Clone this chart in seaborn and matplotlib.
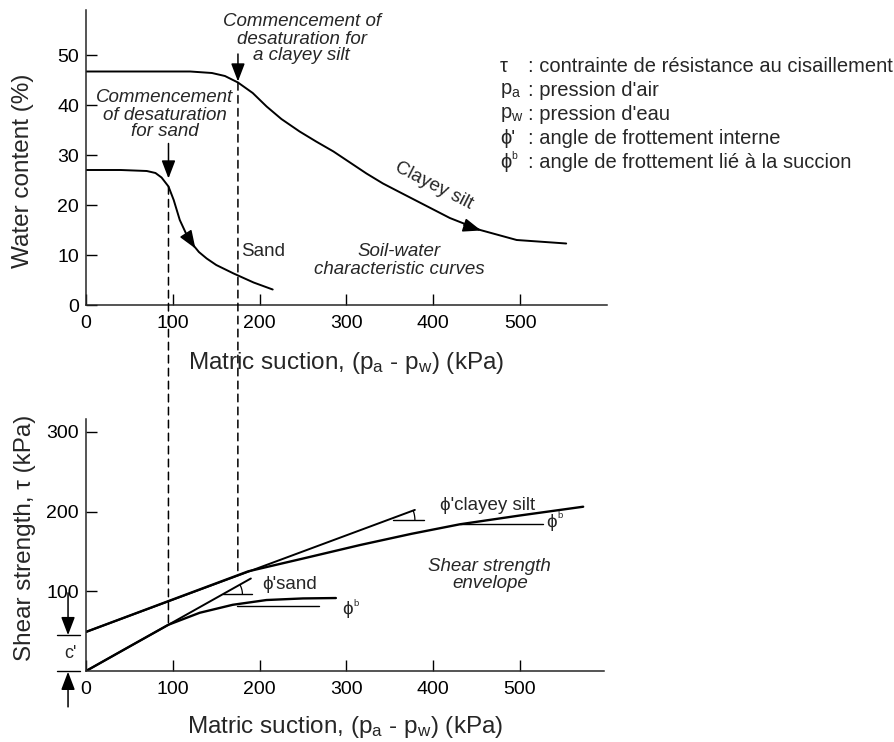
"""
Courbes de rétention (teneur en eau) et enveloppes de résistance au cisaillement
pour un sable et un limon argileux, en fonction de la succion matricielle.
"""
import numpy as np
import matplotlib
matplotlib.use('Agg')
import matplotlib.pyplot as plt
import seaborn as sns
from matplotlib.patches import ConnectionPatch

# --- courbes de rétention (succion kPa, teneur en eau %) ---
SUCCION_SABLE = [0, 40, 70, 80, 87, 95, 101, 108, 116, 122, 130, 139, 150, 170, 193, 215]
TENEUR_SABLE  = [27.0, 27.0, 26.8, 26.4, 25.5, 23.7, 21.0, 17.0, 14.0, 12.3, 10.6, 9.3, 8.0, 6.3, 4.5, 3.1]

SUCCION_LIMON = [0, 60, 120, 145, 160, 175, 192, 208, 225, 246, 265, 285, 304, 323, 342, 362, 400, 419, 454, 496, 553]
TENEUR_LIMON  = [46.7, 46.7, 46.7, 46.4, 45.8, 44.5, 42.4, 39.7, 37.2, 34.7, 32.7, 30.7, 28.5, 26.3, 24.3, 22.5, 19.1, 17.4, 15.0, 13.0, 12.3]

# début de désaturation (kPa) et points correspondants
DESAT_SABLE, DESAT_LIMON = 95, 175
W_DESAT_SABLE, W_DESAT_LIMON = 23.7, 44.5
TAU_DESAT_SABLE, TAU_DESAT_LIMON = 58, 125

# --- enveloppes de résistance (succion kPa, tau kPa) ---
ENV_SABLE_S = [0, 50, 95, 131, 169, 208, 250, 288]
ENV_SABLE_T = [0, 30.6, 58, 73, 83, 89, 91, 91.5]
ENV_LIMON_S = [0, 100, 187, 250, 316, 375, 431, 500, 573]
ENV_LIMON_T = [49, 89.7, 125, 141, 158, 172, 184, 195, 206]

# droites phi' (tangentes)
PHI_SABLE_S, PHI_SABLE_T = [0, 190], [0, 116]
PHI_LIMON_S, PHI_LIMON_T = [0, 379], [49, 202]

# horizontales de référence (phi' et phi^b)
REF_PHI_SABLE = ([158, 191], 96)
REF_PHI_LIMON = ([354, 389], 189)
REF_PHIB_SABLE = ([174, 268], 81.5)
REF_PHIB_LIMON = ([431, 527], 184)
C_PRIME = 45

LEGENDE_SYMB  = ['τ', r'p$_\mathrm{a}$', r'p$_\mathrm{w}$', "ϕ'", 'ϕ']
LEGENDE_TEXTE = [': contrainte de résistance au cisaillement', ": pression d'air",
                 ": pression d'eau", ': angle de frottement interne',
                 ': angle de frottement lié à la succion']

sns.set_style('ticks')
plt.rcParams['font.family'] = ['Liberation Sans', 'DejaVu Sans']
plt.rcParams['mathtext.fontset'] = 'custom'
plt.rcParams['mathtext.rm'] = 'Liberation Sans'
plt.rcParams['mathtext.it'] = 'Liberation Sans:italic'
plt.rcParams['mathtext.fallback'] = 'stixsans'
plt.rcParams['axes.linewidth'] = 1.1

W, H = 895, 742
fig = plt.figure(figsize=(W / 100, H / 100), dpi=100)
ax1 = fig.add_axes([86 / W, 1 - 305 / H, 521 / W, 295 / H])
ax2 = fig.add_axes([86 / W, 1 - 671 / H, 518 / W, 252 / H])

XLAB = r'Matric suction, (p$_\mathrm{a}$ - p$_\mathrm{w}$) (kPa)'
LW = 1.4
FS_LAB = 17.5
fleche = dict(arrowstyle='-|>,head_length=1.1,head_width=0.42', color='k', lw=1.1,
              shrinkA=0, shrinkB=0)

for ax in (ax1, ax2):
    sns.despine(ax=ax)
    ax.tick_params(direction='in', length=8, width=1, labelsize=14, colors='k')
    ax.tick_params(axis='x', pad=7)
    ax.tick_params(axis='y', pad=5)
    ax.set_facecolor('white')

# ---------------- haut : courbes de rétention ----------------
sns.lineplot(x=SUCCION_SABLE, y=TENEUR_SABLE, ax=ax1, color='k', lw=LW, sort=False, estimator=None)
sns.lineplot(x=SUCCION_LIMON, y=TENEUR_LIMON, ax=ax1, color='k', lw=LW, sort=False, estimator=None)
ax1.set_xlim(0, 600)
ax1.set_ylim(0, 59)
ax1.set_xticks([0, 100, 200, 300, 400, 500])
ax1.set_yticks([0, 10, 20, 30, 40, 50])
ax1.set_xlabel(XLAB, fontsize=FS_LAB, va='center')
ax1.xaxis.set_label_coords(0.5, -0.195)
ax1.set_ylabel('Water content (%)', fontsize=FS_LAB, va='center')
ax1.yaxis.set_label_coords(-0.121, 0.454)

ax1.annotate('', xy=(126, 11.3), xytext=(116, 14.0), arrowprops=fleche)
ax1.annotate('', xy=(455, 14.9), xytext=(435, 16.0), arrowprops=fleche)
ax1.annotate('', xy=(DESAT_LIMON, W_DESAT_LIMON + 0.2), xytext=(DESAT_LIMON, 50.2), arrowprops=fleche)
ax1.annotate('', xy=(DESAT_SABLE, W_DESAT_SABLE + 1.6), xytext=(DESAT_SABLE, 32.3), arrowprops=fleche)

ax1.text(248.5, 53.2, 'Commencement of\ndesaturation for\na clayey silt', ha='center', va='center',
         style='italic', fontsize=13.5, linespacing=1.0)
ax1.text(91, 38, 'Commencement\nof desaturation\nfor sand', ha='center', va='center',
         style='italic', fontsize=13.5, linespacing=1.0)
ax1.text(178.5, 10.7, 'Sand', ha='left', va='center', fontsize=13.5)
ax1.text(360.6, 8.9, 'Soil-water\ncharacteristic curves', ha='center', va='center',
         style='italic', fontsize=13.5, linespacing=1.0)
ax1.text(396, 22.3, 'Clayey silt', ha='center', va='bottom', rotation=-27,
         rotation_mode='anchor', fontsize=13.5)

# ---------------- bas : résistance au cisaillement ----------------
sns.lineplot(x=ENV_LIMON_S, y=ENV_LIMON_T, ax=ax2, color='k', lw=LW + 0.3, sort=False, estimator=None)
sns.lineplot(x=ENV_SABLE_S, y=ENV_SABLE_T, ax=ax2, color='k', lw=LW + 0.3, sort=False, estimator=None)
sns.lineplot(x=PHI_LIMON_S, y=PHI_LIMON_T, ax=ax2, color='k', lw=LW, sort=False, estimator=None)
sns.lineplot(x=PHI_SABLE_S, y=PHI_SABLE_T, ax=ax2, color='k', lw=LW, sort=False, estimator=None)
for xs, y in (REF_PHI_SABLE, REF_PHI_LIMON, REF_PHIB_SABLE, REF_PHIB_LIMON):
    ax2.plot(xs, [y, y], color='k', lw=1.0)

ax2.set_xlim(0, 597)
ax2.set_ylim(0, 316)
ax2.set_xticks([0, 100, 200, 300, 400, 500])
ax2.set_yticks([100, 200, 300])
ax2.set_xlabel(XLAB, fontsize=FS_LAB, va='center')
ax2.xaxis.set_label_coords(0.5, -0.222)
ax2.set_ylabel('Shear strength, τ (kPa)', fontsize=FS_LAB, va='center')
ax2.yaxis.set_label_coords(-0.118, 0.529)

# petits arcs d'angle phi'
def arc_angle(ax, s_droite, t_droite, y_ref, r_px):
    p0 = ax.transData.transform((s_droite[0], t_droite[0]))
    p1 = ax.transData.transform((s_droite[1], t_droite[1]))
    pente = (t_droite[1] - t_droite[0]) / (s_droite[1] - s_droite[0])
    x0 = s_droite[0] + (y_ref - t_droite[0]) / pente
    c = ax.transData.transform((x0, y_ref))
    ang = np.arctan2(p1[1] - p0[1], p1[0] - p0[0])
    t = np.linspace(0, ang, 12)
    pts = np.column_stack([c[0] + r_px * np.cos(t), c[1] + r_px * np.sin(t)])
    pts = ax.transData.inverted().transform(pts)
    ax.plot(pts[:, 0], pts[:, 1], color='k', lw=0.9)

arc_angle(ax2, PHI_SABLE_S, PHI_SABLE_T, REF_PHI_SABLE[1], 20)
arc_angle(ax2, PHI_LIMON_S, PHI_LIMON_T, REF_PHI_LIMON[1], 28)

def phi_b(ax, x, y, size=13.5):
    ax.text(x, y, 'ϕ', ha='center', va='center', fontsize=size)
    ax.annotate('b', xy=(x, y), xytext=(6, 5), textcoords='offset points',
                fontsize=size * 0.5, ha='center', va='center')

ax2.text(202.8, 108, "ϕ'sand", ha='left', va='center', fontsize=13.5)
phi_b(ax2, 302, 76.5)
ax2.text(407.8, 208, "ϕ'clayey silt", ha='left', va='center', fontsize=13.5)
phi_b(ax2, 536.5, 185.7)
ax2.text(465.4, 120.5, 'Shear strength\nenvelope', ha='center', va='center',
         style='italic', fontsize=13.5, linespacing=1.0)

# cote c'
ax2.annotate('', xy=(-20.7, C_PRIME), xytext=(-20.7, 98), arrowprops=fleche, annotation_clip=False)
ax2.annotate('', xy=(-20.7, -1), xytext=(-20.7, -45), arrowprops=fleche, annotation_clip=False)
ax2.plot([-33.4, -6.9], [C_PRIME, C_PRIME], color='k', lw=1.0, clip_on=False)
ax2.plot([-33.4, -6.9], [0, 0], color='k', lw=1.0, clip_on=False)
ax2.text(-18.4, C_PRIME / 2, "c'", ha='center', va='center', fontsize=13)

# verticales pointillées reliant les deux graphiques
for s, w, t in ((DESAT_SABLE, W_DESAT_SABLE, TAU_DESAT_SABLE), (DESAT_LIMON, W_DESAT_LIMON, TAU_DESAT_LIMON)):
    con = ConnectionPatch(xyA=(s, w), coordsA=ax1.transData, xyB=(s, t), coordsB=ax2.transData,
                          linestyle=(0, (5, 3.5)), lw=1.1, color='k')
    fig.add_artist(con)

# légende des symboles
for i, (sym, txt) in enumerate(zip(LEGENDE_SYMB, LEGENDE_TEXTE)):
    y = 1 - (66.7 + 24 * i) / H
    fig.text(500 / W, y, sym, ha='left', va='center', fontsize=14.5)
    fig.text(528 / W, y, txt, ha='left', va='center', fontsize=14.5)
fig.text(511 / W, 1 - (162 - 6) / H, 'b', ha='left', va='center', fontsize=7.5)

fig.savefig('out.png', dpi=100, facecolor='white')
